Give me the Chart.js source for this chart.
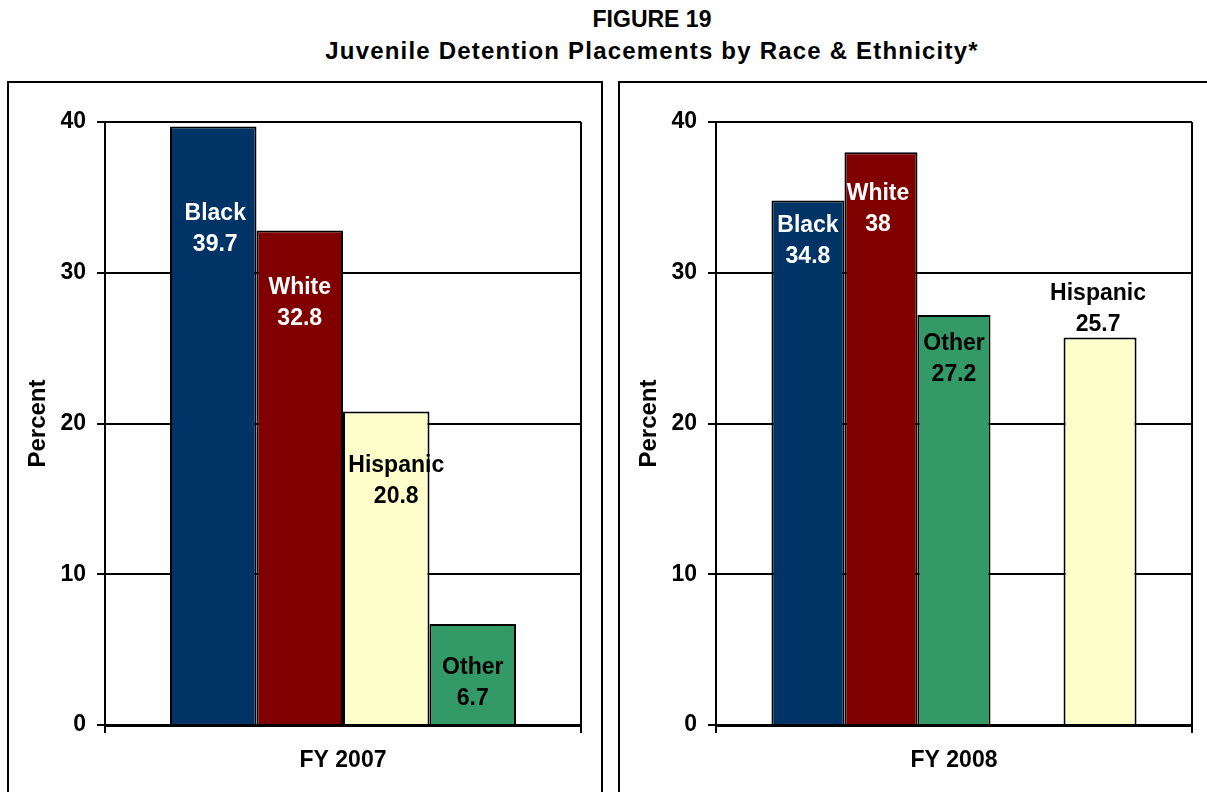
<!DOCTYPE html>
<html>
<head>
<meta charset="utf-8">
<script src="https://cdn.jsdelivr.net/npm/chart.js@4"></script>
<style>
  html, body { margin: 0; padding: 0; background: #fff; }
  body { width: 1207px; height: 792px; overflow: hidden; position: relative;
         font-family: "Liberation Sans", Arial, sans-serif; }
  .title { position: absolute; left: 252px; width: 800px; top: 3px; text-align: center;
           font-weight: bold; color: #000; }
  .title div { line-height: 32px; }
  .title .num { font-size: 23px; }
  .title .name { font-size: 24px; letter-spacing: 1.2px; }
  .panel { position: absolute; top: 81px; width: 592px; height: 730px;
           border: 2px solid #000; background: #fff; }
  #panel2007 { left: 7px; }
  #panel2008 { left: 618px; }
  .panel canvas { position: absolute; left: 0; top: 0; }
</style>
</head>
<body>
<div class="title"><div class="num">FIGURE 19</div><div class="name">Juvenile Detention Placements by Race &amp; Ethnicity*</div></div>
<div class="panel" id="panel2007"><canvas id="chart2007" width="592" height="720"></canvas></div>
<div class="panel" id="panel2008"><canvas id="chart2008" width="592" height="720"></canvas></div>

<script>
// values, percent of placements
const races2007 = ['Black', 'White', 'Hispanic', 'Other'];
const values2007 = [39.7, 32.8, 20.8, 6.7];
const races2008 = ['Black', 'White', 'Other', '', 'Hispanic'];
const values2008 = [34.8, 38, 27.2, null, 25.7];
const yTicks = [0, 10, 20, 30, 40];

const FONT = '"Liberation Sans", Arial, sans-serif';

const raceColors = {
    'Black': { fill: '#003366', text: '#ffffff' },
    'White': { fill: '#800000', text: '#ffffff' },
    'Hispanic': { fill: '#ffffcc', text: '#000000' },
    'Other': { fill: '#339966', text: '#000000' },
    '': { fill: 'rgba(0,0,0,0)', text: '#000000' }
};

// where each two-line label sits, relative to the top centre of its bar
const labelPlaces2007 = [
    { dx: 2, dy: 87 }, { dx: 0, dy: 57 }, { dx: 10, dy: 54 }, { dx: 0, dy: 44 }
];
const labelPlaces2008 = [
    { dx: 0, dy: 25 }, { dx: -3, dy: 42 }, { dx: 0, dy: 29 }, { dx: 0, dy: 0 }, { dx: -2, dy: -44 }
];

const barLabels = {
    id: 'barLabels',
    afterDatasetsDraw(chart, args, opts) {
        const ctx = chart.ctx;
        ctx.save();
        ctx.font = 'bold 23px ' + FONT;
        ctx.textAlign = 'center';
        ctx.textBaseline = 'middle';
        chart.data.datasets.forEach((ds, i) => {
            const bar = chart.getDatasetMeta(i).data[0];
            if (!bar || ds.data[0] == null) return;
            const p = opts.places[i];
            ctx.fillStyle = raceColors[ds.label].text;
            ctx.fillText(ds.label, bar.x + p.dx, bar.y + p.dy);
            ctx.fillText(String(ds.data[0]), bar.x + p.dx, bar.y + p.dy + 31);
        });
        ctx.restore();
    }
};

function buildChart(canvasId, year, races, values, places, catPct) {
    const datasets = races.map((race, i) => ({
        label: race,
        data: [values[i]],
        backgroundColor: raceColors[race].fill,
        borderColor: '#000',
        borderWidth: race ? 2 : 0,
        borderSkipped: 'bottom',
        barPercentage: 1,
        categoryPercentage: catPct
    }));

    return new Chart(document.getElementById(canvasId), {
        type: 'bar',
        data: { labels: ['FY ' + year], datasets: datasets },
        options: {
            responsive: false,
            animation: false,
            layout: { padding: { top: 39, right: 20, left: 0, bottom: 0 } },
            plugins: {
                legend: { display: false },
                tooltip: { enabled: false },
                barLabels: { places: places }
            },
            scales: {
                x: {
                    offset: true,
                    afterFit: scale => { scale.height = 78; },
                    grid: { color: '#000', lineWidth: 2, tickLength: 8, offset: true },
                    border: { color: '#000', width: 3 },
                    ticks: { color: '#000', padding: 14, font: { family: FONT, size: 23, weight: 'bold' } }
                },
                y: {
                    min: yTicks[0],
                    max: yTicks[yTicks.length - 1],
                    afterFit: scale => { scale.width = 96; },
                    afterBuildTicks: scale => { scale.ticks = yTicks.map(v => ({ value: v })); },
                    grid: { color: '#000', lineWidth: 2, tickLength: 8 },
                    border: { color: '#000', width: 2 },
                    ticks: { color: '#000', padding: 11, font: { family: FONT, size: 23, weight: 'bold' } },
                    title: {
                        display: true,
                        text: 'Percent',
                        color: '#000',
                        padding: { top: 15, bottom: 0 },
                        font: { family: FONT, size: 24, weight: 'bold' }
                    }
                }
            }
        },
        plugins: [barLabels]
    });
}

buildChart('chart2007', 2007, races2007, values2007, labelPlaces2007, 0.727);
buildChart('chart2008', 2008, races2008, values2008, labelPlaces2008, 0.767);
</script>
</body>
</html>
